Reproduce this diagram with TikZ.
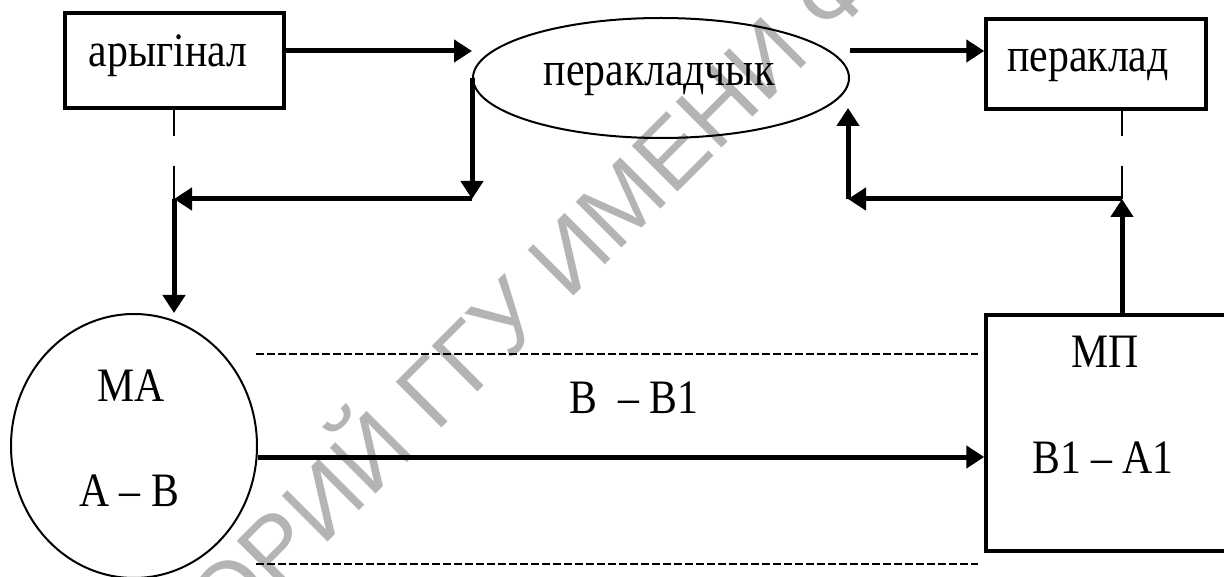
\documentclass[tikz,border=0pt]{standalone}
\usepackage{fontspec}
\setmainfont{Liberation Serif}
\newfontfamily\lblfont[FakeStretch=0.87]{Liberation Serif}
\newfontfamily\wmfont{Liberation Sans}
\usetikzlibrary{arrows.meta,shapes.geometric}
\definecolor{wmgray}{RGB}{180,180,180}
\tikzset{
  frame/.style={draw, line width=3.5pt, inner sep=0pt},
  outline/.style={draw, ellipse, line width=2pt, inner sep=0pt},
  lbl/.style={font=\lblfont\fontsize{48}{56}\selectfont, anchor=base, inner sep=0pt},
  flow/.style={line width=5pt, -{Triangle[length=18pt,width=22pt]}},
  guide/.style={line width=2pt},
  dashguide/.style={line width=2pt, dash pattern=on 8pt off 3pt},
  stamp/.style={font=\wmfont\fontsize{94}{94}\selectfont, text=wmgray, rotate=45,
    anchor=base west, inner sep=0pt},
}
\begin{document}
\begin{tikzpicture}[x=1pt,y=-1pt]
\useasboundingbox (0,0) rectangle (1224,577);
\fill[white] (0,0) rectangle (1224,577);
\begin{scope}
\clip (0,0) rectangle (1224,577);

% repository stamp behind the scheme
\node[stamp] (wm) at (436,434) {\llap{РЕПОЗИТОРИЙ\ }ГГУ ИМЕНИ Ф.~СКОРИНЫ};

% blocks
\node[frame, minimum width=219pt, minimum height=95pt] (orig) at (174.5,60.5) {};
\node[outline, minimum width=376pt, minimum height=120pt] (ell) at (661,78) {};
\node[frame, minimum width=220pt, minimum height=90pt] (perakl) at (1096,64) {};
\node[outline, minimum width=246pt, minimum height=264pt] (ma) at (134,446) {};
\node[frame, minimum width=254pt, minimum height=236pt] (mp) at (1113,433) {};

% labels
\node[lbl] (origt) at (168,67) {арыгінал};
\node[lbl] (ellt) at (659,86) {перакладчык};
\node[lbl] (peraklt) at (1088,72) {пераклад};
\node[lbl] (mat) at (131,401) {МА};
\node[lbl] (abt) at (129,506) {А – В};
\node[lbl] (bbt) at (634,413) {В\ \ – В1};
\node[lbl] (mpt) at (1105,368) {МП};
\node[lbl] (bat) at (1103,473) {В1 – А1};

% junction points
\coordinate (jl) at (472,199);
\coordinate (jo) at (174,199);
\coordinate (jr) at (1122,199);
\coordinate (jp) at (848,199);
\coordinate (ep) at (848,108);
\coordinate (d1a) at (256,354);
\coordinate (d1b) at (978,354);
\coordinate (d2a) at (256,564);
\coordinate (d2b) at (978,564);

% thin guides under the upper boxes
\draw[guide] (jo |- orig.south) -- (174,136);
\draw[guide] (174,166) -- (jo);
\draw[guide] (jr |- perakl.south) -- (1122,136);
\draw[guide] (1122,166) -- (jr);

% main flow
\draw[flow] (orig.east |- 0,51) -- (ell.west |- 0,51);
\draw[flow] (ell.east |- 0,51) -- (perakl.west |- 0,51);
\draw[flow] (ell.west) -- (jl);
\draw[flow] (jl) -- (jo);
\draw[flow] (jo) -- (jo |- ma.north);
\draw[flow] (mp.north -| jr) -- (jr);
\draw[flow] (jr) -- (jp);
\draw[flow] (jp) -- (ep);
\draw[flow] (ma.east |- 0,457) -- (mp.west |- 0,457);

% dashed borders of the В – В1 band
\draw[dashguide] (d1a) -- (d1b);
\draw[dashguide] (d2a) -- (d2b);
\end{scope}
\end{tikzpicture}
\end{document}
